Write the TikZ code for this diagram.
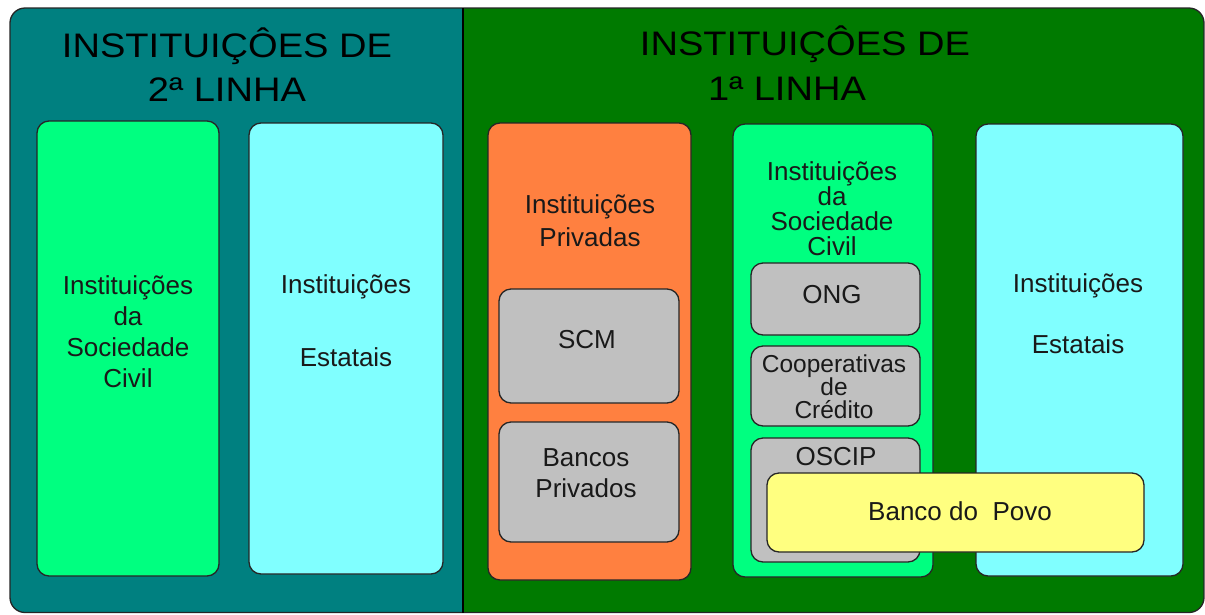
\documentclass[tikz,border=0pt]{standalone}
\usepackage{fontspec}
\setmainfont{Liberation Sans}
\newfontfamily\titlefont[FakeStretch=1.12]{Liberation Sans}
\definecolor{tealbg}{HTML}{008080}
\definecolor{greenbg}{HTML}{007A00}
\definecolor{lgreen}{HTML}{00FF80}
\definecolor{lcyan}{HTML}{80FFFF}
\definecolor{lorange}{HTML}{FF8040}
\definecolor{lgray}{HTML}{C0C0C0}
\definecolor{lyellow}{HTML}{FFFF80}
\tikzset{
  box/.style={draw=black!85, line width=1.3pt, rounded corners=12pt, inner sep=0pt, outer sep=0pt},
  lbl/.style={anchor=base, align=center, inner sep=0pt, text=black!90},
  ttl/.style={anchor=base, inner sep=0pt, font=\titlefont\fontsize{34}{44}\selectfont, text=black},
}
\newcommand{\txt}[1]{\fontsize{26}{#1}\selectfont}
\begin{document}
\begin{tikzpicture}[x=1pt,y=-1pt]
\useasboundingbox (0,0) rectangle (1205,614);
\fill[white] (0,0) rectangle (1205,614);
% outer panels
\begin{scope}
  \clip[rounded corners=15pt] (10,8) rectangle (1204,612.5);
  \fill[tealbg] (10,8) rectangle (463,613);
  \fill[greenbg] (463,8) rectangle (1204,613);
\end{scope}
\draw[black!85, line width=1.3pt, rounded corners=15pt] (10,8) rectangle (1204,612.5);
\draw[black, line width=1.3pt] (463,8) -- (463,612.5);
% titles
\node[ttl] (t2a) at (227,57) {INSTITUIÇÔES DE};
\node[ttl] (t2b) at (227,101) {2ª LINHA};
\node[ttl] (t1a) at (805,55) {INSTITUIÇÔES DE};
\node[ttl] (t1b) at (787,100) {1ª LINHA};
% left panel boxes (multi-line labels are placed at the baseline of their last line)
\node[box, fill=lgreen, minimum width=182pt, minimum height=455pt] (lg) at (128,348.5) {};
\node[box, fill=lcyan, minimum width=194pt, minimum height=451pt] (lc) at (346,348.5) {};
\node[lbl, font=\txt{31}] (lgt) at (128,387) {Instituições\\da\\Sociedade\\Civil};
\node[lbl, font=\txt{73}] (lct) at (346,366) {Instituições\\Estatais};
% orange column
\node[box, fill=lorange, minimum width=203pt, minimum height=457pt] (or) at (589.5,351.5) {};
\node[lbl, font=\txt{33}] (ort) at (590,246) {Instituições\\Privadas};
\node[box, fill=lgray, minimum width=180pt, minimum height=114pt] (scm) at (589,346) {};
\node[lbl, font=\txt{31}] (scmt) at (587,348) {SCM};
\node[box, fill=lgray, minimum width=180pt, minimum height=120pt] (bp) at (589,482) {};
\node[lbl, font=\txt{31}] (bpt) at (586,497) {Bancos\\Privados};
% middle green column
\node[box, fill=lgreen, minimum width=200pt, minimum height=453pt] (mg) at (833,350.5) {};
\node[lbl, font=\txt{25}] (mgt) at (832,255) {Instituições\\da\\Sociedade\\Civil};
\node[box, fill=lgray, minimum width=169pt, minimum height=72pt] (ong) at (835.5,299) {};
\node[lbl, font=\txt{25}] (ongt) at (832,303) {ONG};
\node[box, fill=lgray, minimum width=169pt, minimum height=80pt] (coop) at (835.5,386) {};
\node[lbl, font=\fontsize{24.5}{23}\selectfont] (coopt) at (834,418) {Cooperativas\\de\\Crédito};
\node[box, fill=lgray, minimum width=169pt, minimum height=124pt] (osc) at (835.5,500) {};
\node[lbl, font=\txt{25}] (osct) at (836,465) {OSCIP};
% right cyan column
\node[box, fill=lcyan, minimum width=207pt, minimum height=452pt] (rc) at (1079.5,350) {};
\node[lbl, font=\txt{61}] (rct) at (1078,353) {Instituições\\Estatais};
% banco do povo
\node[box, fill=lyellow, minimum width=377pt, minimum height=79pt] (yel) at (955.5,512.5) {};
\node[lbl, font=\txt{25}] (yelt) at (960,520) {Banco do\ \ Povo};
\end{tikzpicture}
\end{document}
